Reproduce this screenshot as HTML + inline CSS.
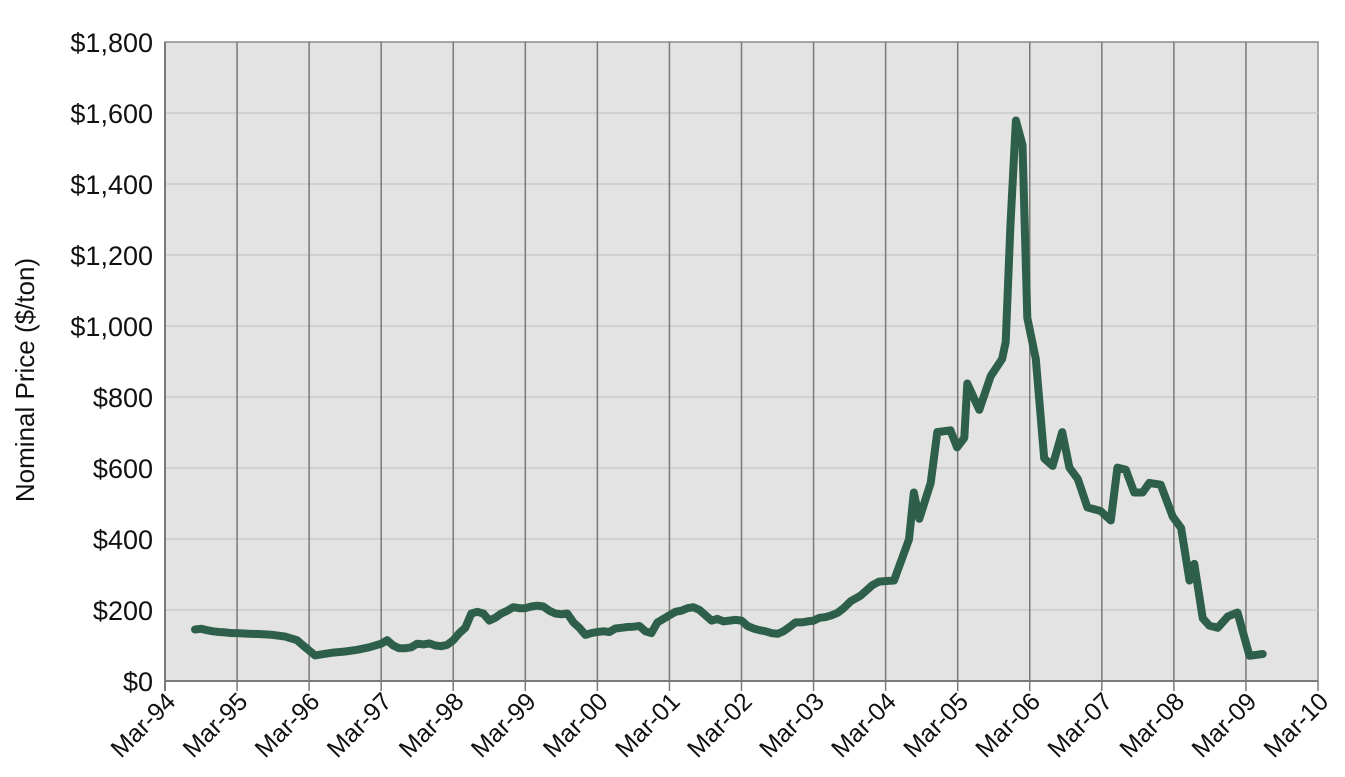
<!DOCTYPE html>
<html><head><meta charset="utf-8"><style>
html,body{margin:0;padding:0;background:#fff;}
svg{display:block;font-family:"Liberation Sans",Arial,sans-serif;}
</style></head><body>
<svg id="chart" width="1345" height="777"></svg>
<script>
const months=[5,6,7,8,9,10,11,12,14,16,18,20,22,23,25,26,28,30,32,34,36,37,38,39,40,41,42,43,44,45,46,47,48,49,50,51,52,53,54,55,56,57,58,59,60,61,62,63,64,65,66,67,68,69,70,71,72,73,74,75,76,77,78,79,80,81,82,83,84,85,86,87,88,89,90,91,92,93,94,95,96,97,98,99,100,101,102,103,104,105,106,107,108,109,110,111,112,113,114.2,115.8,117.8,118.9,121.4,123.9,124.7,125.6,127.5,128.6,130.8,131.9,133.1,133.6,135.6,137.5,139.4,140,140.8,141.7,142.8,143.6,145,146.4,147.8,149.4,150.6,152,153.6,155.8,157.5,158.6,160,161.4,162.8,163.9,165.8,167.8,169.2,170.6,171.4,172.8,173.9,175.3,177,178.6,180.6,182.8];
const prices=[145,147,143,140,138,137,135,135,133,132,130,125,115,100,72,75,80,83,88,95,105,115,100,92,92,95,105,103,106,100,98,102,115,135,150,190,195,190,170,178,190,198,208,205,205,210,212,210,198,190,188,190,165,150,130,135,138,140,138,148,150,152,153,155,140,135,165,175,185,195,198,205,208,200,185,170,175,168,170,172,170,155,148,143,140,135,133,140,152,165,165,168,170,178,180,185,192,205,225,240,270,280,283,399,531,457,558,701,706,658,685,838,764,859,907,955,1288,1579,1510,1023,907,627,606,701,601,569,489,479,452,601,595,531,531,558,553,463,431,283,330,177,156,150,182,193,71,76];
const yTicks=[0,200,400,600,800,1000,1200,1400,1600,1800];
const yTickLabels=["$0","$200","$400","$600","$800","$1,000","$1,200","$1,400","$1,600","$1,800"];
const xTickLabels=["Mar-94","Mar-95","Mar-96","Mar-97","Mar-98","Mar-99","Mar-00","Mar-01","Mar-02","Mar-03","Mar-04","Mar-05","Mar-06","Mar-07","Mar-08","Mar-09","Mar-10"];

const L=165,R=1318,T=42,B=681;
const xs=m=>L+m*(R-L)/192;
const ys=v=>B-v*(B-T)/1800;
const svg=document.getElementById('chart');
const NS='http://www.w3.org/2000/svg';
function mk(tag,attrs,parent){const e=document.createElementNS(NS,tag);for(const k in attrs)e.setAttribute(k,attrs[k]);(parent||svg).appendChild(e);return e;}

const bg=mk('rect',{x:L,y:T,width:R-L,height:B-T,fill:'#e3e3e3',stroke:'#8a8a8a','stroke-width':1.5});



yTicks.forEach((v,i)=>{
  const y=ys(v);
  if(v>0&&v<1800){const g=mk('line',{x1:L,x2:R,y1:y,y2:y,stroke:'#cbcbcb','stroke-width':1.5});
  
  }
  const t=mk('text',{x:153,y:y+10,'text-anchor':'end','font-size':27,fill:'#111'});
  t.textContent=yTickLabels[i];
  
  
});

xTickLabels.forEach((lab,i)=>{
  const x=xs(i*12);
  if(i>0&&i<16){const g=mk('line',{x1:x,x2:x,y1:T,y2:B,stroke:'#7a7a7a','stroke-width':1.5});
  
  }
  const tk=mk('line',{x1:x,x2:x,y1:B,y2:B+10,stroke:'#7a7a7a','stroke-width':1.5});
  
  
  const t=mk('text',{x:x+12,y:B+22,'text-anchor':'end','font-size':25,fill:'#111',transform:`rotate(-45 ${x+12} ${B+22})`});
  t.textContent=lab;
  
  
});

const ax=mk('line',{x1:L,x2:R,y1:B,y2:B,stroke:'#7a7a7a','stroke-width':2});


const ay=mk('line',{x1:L,x2:L,y1:T,y2:B+10,stroke:'#7a7a7a','stroke-width':2});



const d=months.map((m,i)=>(i?'L':'M')+xs(m).toFixed(1)+' '+ys(prices[i]).toFixed(1)).join(' ');
const line=mk('path',{d:d,fill:'none',stroke:'#2d5f4b','stroke-width':8,'stroke-linejoin':'round','stroke-linecap':'round'});



const yt=mk('text',{x:34,y:380,'text-anchor':'middle','font-size':26,fill:'#111',transform:'rotate(-90 34 380)'});
yt.textContent='Nominal Price ($/ton)';


</script>
</body></html>
